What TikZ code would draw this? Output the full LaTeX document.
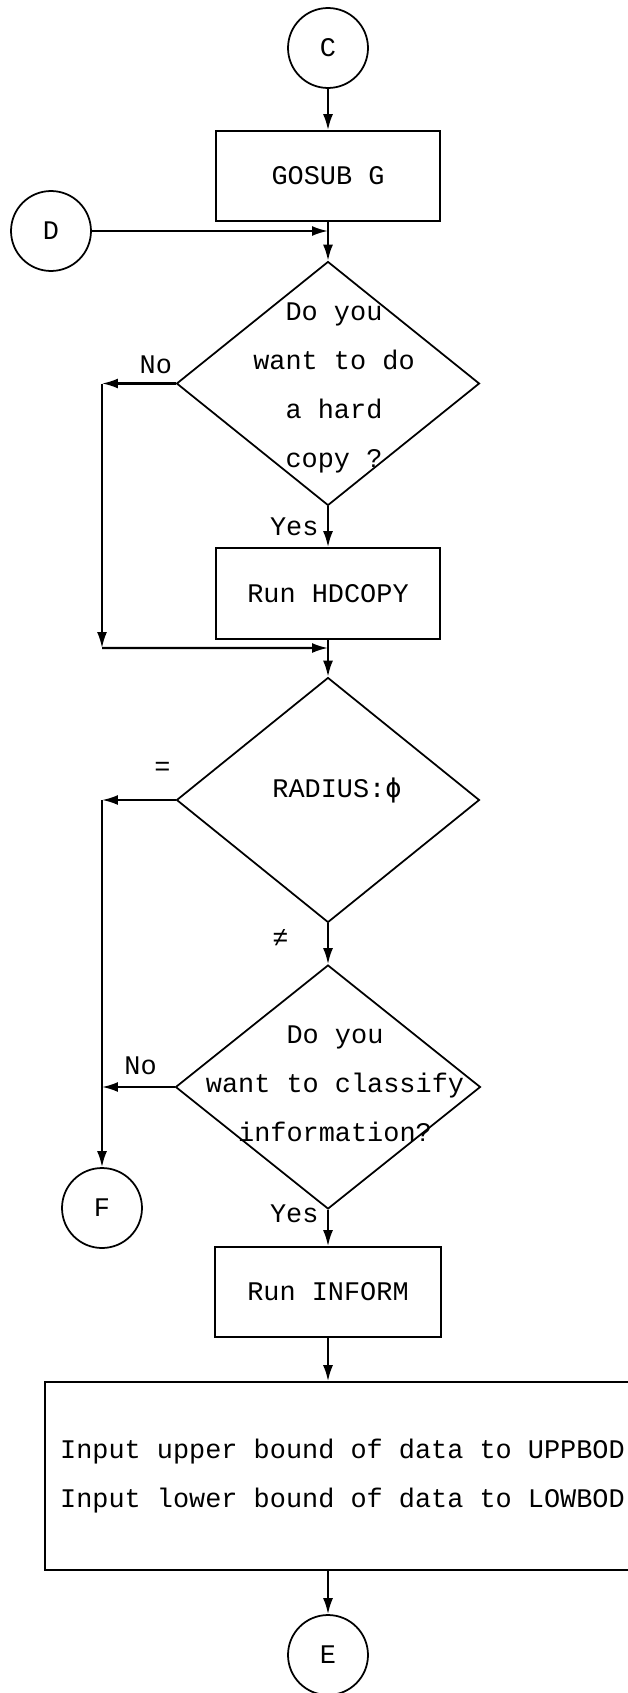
\documentclass[tikz,border=0pt]{standalone}
\usepackage{fontspec}
\setmainfont{Liberation Mono}
\newfontfamily\symfont{DejaVu Sans Mono}
\usetikzlibrary{shapes.geometric,arrows.meta}
\begin{document}
\begin{tikzpicture}[x=.02cm,y=-.02cm,
	font=\fontsize{15.3}{27.9}\selectfont,
	>={Latex[length=3.2mm,width=2mm]},
	conn/.style={draw,circle,line width=1pt,minimum size=1.6cm,inner sep=0pt},
	proc/.style={draw,rectangle,line width=1pt,minimum width=4.48cm,minimum height=1.8cm},
	decision/.style={draw,diamond,line width=1pt,minimum width=6.06cm,minimum height=4.88cm,inner sep=0pt},
	flow/.style={line width=1.2pt},
	lbl/.style={inner sep=2pt}]
	\useasboundingbox (0,0) rectangle (628,1693);
	\foreach \n/\x/\y in {C/328/48,D/51/231,F/102/1208,E/328/1655}
	\node[conn] (\n) at (\x,\y) {\n};
	\node[proc] (gosub) at (328,176) {GOSUB G};
	\node[decision] (hard) at (328,383.5) {};
	\node[align=center] (hardtxt) at (334,388) {Do you\\want to do\\a hard\\copy ?};
	\node[proc,minimum height=1.82cm] (hdcopy) at (328,593.5) {Run HDCOPY};
	\node[decision,minimum height=4.9cm] (radius) at (328,800) {};
	\node (radiustxt) at (337,790) {RADIUS:{\symfont ϕ}};
	\node[decision,minimum width=6.1cm] (classify) at (328,1087) {};
	\node[align=center] (classifytxt) at (335,1084) {Do you\\want to classify\\information?};
	\node[proc,minimum width=4.52cm] (inform) at (328,1292) {Run INFORM};
	\node[draw,line width=1pt,minimum width=11.9cm,minimum height=3.76cm,align=left] (input) at (342.5,1476)
	{Input upper bound of data to UPPBOD\\Input lower bound of data to LOWBOD};
	\path
	(328,231) coordinate (j1)
	(102,383.5) coordinate (nl1) ++(0,264.5) coordinate (nl2) (328,648) coordinate (j2)
	(102,800) coordinate (eq) (102,1087) coordinate (nl3)
	;
	\draw[flow,->] (C) -- (gosub);
	\draw[flow,->] (D) -- (j1);
	\draw[flow,->] (gosub) -- (hard);
	\draw[flow,->] (hard.west) -- node[lbl,above=1mm,pos=.27] (no1) {No} (nl1);
	\draw[flow,->] (nl1) -- (nl2);
	\draw[flow,->] (nl2) -- (j2);
	\draw[flow,->] (hard) -- node[lbl,left=1mm] (yes1) {Yes} (hdcopy);
	\draw[flow,->] (hdcopy) -- (radius);
	\draw[flow,->] (radius.west) -- node[lbl,above=4mm,pos=.18] (eqlbl) {=} (eq);
	\draw[flow,->] (eq) -- (F);
	\draw[flow,->] (radius) -- node[lbl,left=7mm,pos=.35] (nelbl) {≠} (classify);
	\draw[flow,->] (classify.west) -- node[lbl,above=1.5mm,pos=.47] (no2) {No} (nl3);
	\draw[flow,->] (classify) -- node[lbl,left=1mm,pos=.12] (yes2) {Yes} (inform);
	\draw[flow,->] (inform) -- (inform |- input.north);
	\draw[flow,->] (input.south -| E) -- (E);
\end{tikzpicture}
\end{document}
